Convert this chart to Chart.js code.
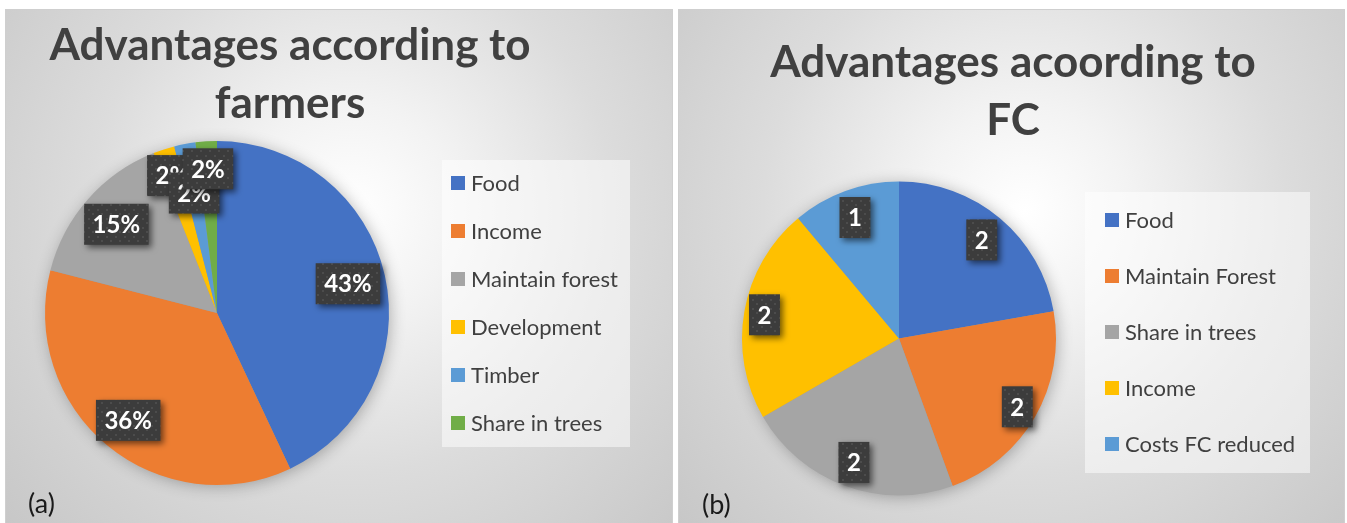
<!DOCTYPE html>
<html lang="en">
<head>
<meta charset="UTF-8">
<title>Advantages</title>
<script src="https://cdn.jsdelivr.net/npm/chart.js"></script>
<style>
  body { margin: 0; width: 1347px; height: 523px; overflow: hidden; position: relative; background: #fff; }
  .panel {
    position: absolute;
    top: 9px;
    height: 530px;
    border: 1px solid #cfcfcf;
    box-sizing: border-box;
    background: radial-gradient(circle farthest-corner at 52% 38%, #ffffff 0%, #f3f3f3 22%, #dcdcdc 55%, #c6c6c6 100%);
  }
  #panelA { left: 5px; width: 668px; }
  #panelB { left: 678px; width: 667px; }
  canvas { display: block; }
</style>
</head>
<body>

<div class="panel" id="panelA"><canvas id="chartA" width="666" height="513"></canvas></div>
<div class="panel" id="panelB"><canvas id="chartB" width="665" height="513"></canvas></div>

<script>
// (a) advantages named by farmers, share in percent
const farmerCats = ['Food', 'Income', 'Maintain forest', 'Development', 'Timber', 'Share in trees'];
const farmerShares = [43, 36, 15, 2, 2, 2];
const farmerColors = ['#4472C4', '#ED7D31', '#A5A5A5', '#FFC000', '#5B9BD5', '#70AD47'];

// (b) advantages named by FC, counts
const fcCats = ['Food', 'Maintain Forest', 'Share in trees', 'Income', 'Costs FC reduced'];
const fcCounts = [2, 2, 2, 2, 1];
const fcColors = ['#4472C4', '#ED7D31', '#A5A5A5', '#FFC000', '#5B9BD5'];

const FONT = 'Lato, "Open Sans", sans-serif';
const TEXT = '#404040';

// dotted dark fill used behind the data labels
function makeLabelPattern(ctx) {
    const c = document.createElement('canvas');
    c.width = 9; c.height = 9;
    const g = c.getContext('2d');
    g.fillStyle = '#3c3c3c';
    g.fillRect(0, 0, 9, 9);
    g.fillStyle = '#4c4c4c';
    g.fillRect(1, 1, 2, 2);
    g.fillRect(5, 5, 2, 2);
    return ctx.createPattern(c, 'repeat');
}

function panelPlugin(cfg) {
    return {
        id: 'panelDecor',
        beforeDatasetsDraw(chart) {
            // soft shadow under the whole pie
            const arc = chart.getDatasetMeta(0).data[0];
            if (!arc) return;
            const ctx = chart.ctx;
            ctx.save();
            ctx.shadowColor = 'rgba(0,0,0,0.3)';
            ctx.shadowBlur = 16;
            ctx.shadowOffsetX = 2;
            ctx.shadowOffsetY = 2;
            ctx.fillStyle = '#999';
            ctx.beginPath();
            ctx.arc(arc.x, arc.y, arc.outerRadius - 1, 0, Math.PI * 2);
            ctx.fill();
            ctx.restore();
        },
        afterDatasetsDraw(chart) {
            const ctx = chart.ctx;
            const meta = chart.getDatasetMeta(0);
            const values = chart.data.datasets[0].data;
            const total = values.reduce((a, b) => a + b, 0);
            const pattern = makeLabelPattern(ctx);

            // data labels: dark boxes with white bold text
            ctx.save();
            ctx.font = 'bold 24px ' + FONT;
            ctx.textAlign = 'center';
            ctx.textBaseline = 'middle';
            meta.data.forEach((el, i) => {
                const mid = (el.startAngle + el.endAngle) / 2;
                const r = el.outerRadius * cfg.labelRadius[i];
                const x = el.x + Math.cos(mid) * r;
                const y = el.y + Math.sin(mid) * r;
                const txt = cfg.percent ? Math.round(values[i] / total * 100) + '%' : String(values[i]);
                const w = ctx.measureText(txt).width + 17;
                const h = 41;
                ctx.save();
                ctx.shadowColor = 'rgba(0,0,0,0.55)';
                ctx.shadowBlur = 6;
                ctx.shadowOffsetX = 3;
                ctx.shadowOffsetY = 3;
                ctx.fillStyle = pattern;
                ctx.fillRect(x - w / 2, y - h / 2, w, h);
                ctx.restore();
                ctx.fillStyle = '#ffffff';
                ctx.fillText(txt, x, y + 1);
            });
            ctx.restore();
        },
        afterDraw(chart) {
            const ctx = chart.ctx;
            ctx.save();

            // title, two lines
            ctx.fillStyle = TEXT;
            ctx.font = 'bold 44px ' + FONT;
            ctx.textAlign = 'center';
            ctx.textBaseline = 'alphabetic';
            cfg.title.forEach((line, i) => ctx.fillText(line, cfg.titleX, cfg.titleY[i]));

            // legend panel
            const lg = cfg.legend;
            ctx.fillStyle = 'rgba(255,255,255,0.5)';
            ctx.fillRect(lg.x, lg.y, lg.w, lg.h);
            ctx.font = '22px ' + FONT;
            ctx.textAlign = 'left';
            ctx.textBaseline = 'middle';
            chart.data.labels.forEach((name, i) => {
                const cy = lg.firstY + i * lg.step;
                ctx.fillStyle = chart.data.datasets[0].backgroundColor[i];
                ctx.fillRect(lg.boxX, cy - 7, 14, 14);
                ctx.fillStyle = TEXT;
                ctx.fillText(name, lg.textX, cy + 1);
            });

            // panel tag
            ctx.fillStyle = '#1a1a1a';
            ctx.font = '27px ' + FONT;
            ctx.textBaseline = 'alphabetic';
            ctx.fillText(cfg.tag, cfg.tagX, cfg.tagY);
            ctx.restore();
        }
    };
}

function makePie(id, cats, values, colors, padding, cfg) {
    return new Chart(document.getElementById(id), {
        type: 'pie',
        data: {
            labels: cats,
            datasets: [{
                data: values,
                backgroundColor: colors,
                borderWidth: 0,
                hoverOffset: 0
            }]
        },
        options: {
            responsive: false,
            animation: false,
            layout: { padding: padding },
            plugins: {
                legend: { display: false },
                title: { display: false },
                tooltip: { enabled: false }
            }
        },
        plugins: [panelPlugin(cfg)]
    });
}

makePie('chartA', farmerCats, farmerShares, farmerColors,
    { left: 39, top: 131, right: 283, bottom: 38 },
    {
        percent: true,
        labelRadius: [0.78, 0.81, 0.78, 0.84, 0.71, 0.84],
        title: ['Advantages according to', 'farmers'],
        titleX: 284, titleY: [50, 108],
        legend: { x: 436, y: 150, w: 188, h: 287, boxX: 445, textX: 465, firstY: 173, step: 48 },
        tag: '(a)', tagX: 22, tagY: 503
    });

makePie('chartB', fcCats, fcCounts, fcColors,
    { left: 63, top: 171.5, right: 288, bottom: 27.5 },
    {
        percent: false,
        labelRadius: [0.82, 0.87, 0.84, 0.87, 0.82],
        title: ['Advantages acoording to', 'FC'],
        titleX: 334, titleY: [67, 125],
        legend: { x: 406, y: 182, w: 225, h: 281, boxX: 426, textX: 446, firstY: 210, step: 56 },
        tag: '(b)', tagX: 23, tagY: 504
    });
</script>

</body>
</html>
